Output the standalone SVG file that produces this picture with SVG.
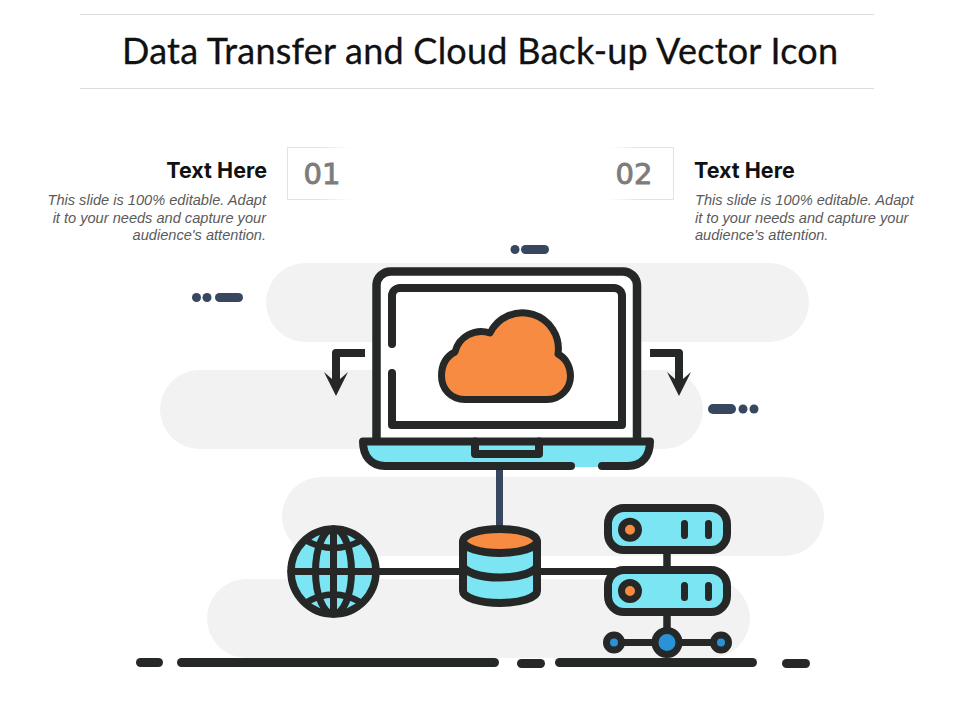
<svg xmlns="http://www.w3.org/2000/svg" width="960" height="720" viewBox="0 0 960 720">
<defs>
<linearGradient id="fadeR"><stop offset="0.5" stop-color="#e2e2e2"/><stop offset="1" stop-color="#fff"/></linearGradient>
<linearGradient id="fadeL"><stop offset="0" stop-color="#fff"/><stop offset="0.5" stop-color="#e2e2e2"/></linearGradient>
</defs>
<style>
.k{fill:none;stroke:#262828;stroke-width:8;stroke-linecap:round;stroke-linejoin:round}
.a{fill:none;stroke:#262828;stroke-width:8;stroke-linejoin:round}
.l{stroke:#262828;stroke-width:7.500}
.c{fill:#7be5f3}
.o{fill:#f68b41}
.b{fill:#2a92d6}
.band{fill:#f2f2f2}
.n{fill:#36475f}
.d{fill:#262828}
.h{font:bold 21.500px "Inter","Liberation Sans",sans-serif;fill:#111}
.p{font:italic 14.600px "Liberation Sans",Arial,sans-serif;fill:#5a5a5a}
.num{font:29px "DejaVu Sans","Liberation Sans",sans-serif;fill:#7c7c7c;stroke:#7c7c7c;stroke-width:.9}
</style>
<rect width="960" height="720" fill="#fff"/>
<g id="title">
<line x1="80" y1="14.500" x2="874" y2="14.500" stroke="#dcdcdc"/>
<line x1="80" y1="88.500" x2="874" y2="88.500" stroke="#dcdcdc"/>
<text x="480" y="64" text-anchor="middle" textLength="716" style="font:36px Lato,'Liberation Sans',sans-serif;fill:#111;stroke:#111;stroke-width:.3">Data Transfer and Cloud Back-up Vector Icon</text>
</g>
<g id="bands">
<rect class="band" x="266" y="263" width="543" height="79" rx="39.500"/>
<rect class="band" x="160" y="370" width="543" height="79" rx="39.500"/>
<rect class="band" x="282" y="477" width="542" height="79" rx="39.500"/>
<rect class="band" x="207" y="579" width="543" height="79" rx="39.500"/>
</g>
<g id="callout-1">
<path d="M352 147.500H287.500V199.500H352" fill="none" stroke="url(#fadeR)"/>
<text class="num" x="322" y="184" text-anchor="middle">01</text>
<text class="h" x="267" y="178" text-anchor="end">Text Here</text>
<text class="p" x="266" y="205" text-anchor="end">This slide is 100% editable. Adapt</text>
<text class="p" x="266" y="223" text-anchor="end">it to your needs and capture your</text>
<text class="p" x="266" y="240" text-anchor="end">audience's attention.</text>
</g>
<g id="callout-2">
<path d="M608 147.500H673.500V199.500H608" fill="none" stroke="url(#fadeL)"/>
<text class="num" x="634" y="184" text-anchor="middle">02</text>
<text class="h" x="694" y="178">Text Here</text>
<text class="p" x="695" y="205">This slide is 100% editable. Adapt</text>
<text class="p" x="695" y="223">it to your needs and capture your</text>
<text class="p" x="695" y="240">audience's attention.</text>
</g>
<g id="decor">
<circle class="n" cx="515" cy="249.500" r="4.500"/><rect class="n" x="521" y="245" width="28" height="9" rx="4.500"/>
<circle class="n" cx="196.500" cy="297.500" r="4.500"/><circle class="n" cx="207" cy="297.500" r="4.500"/><rect class="n" x="215" y="293" width="28" height="9" rx="4.500"/>
<rect class="n" x="708" y="404" width="28" height="10" rx="5"/><circle class="n" cx="743" cy="409" r="4.500"/><circle class="n" cx="754" cy="409" r="4.500"/>
<rect class="d" x="136" y="658" width="27" height="9" rx="4.500"/>
<rect class="d" x="177" y="658" width="322" height="9" rx="4.500"/>
<rect class="d" x="517" y="659" width="28" height="9" rx="4.500"/>
<rect class="d" x="555" y="658" width="202" height="9" rx="4.500"/>
<rect class="d" x="782" y="659" width="28" height="9" rx="4.500"/>
</g>
<g id="connectors">
<line x1="499.500" y1="468" x2="499.500" y2="530" stroke="#36475f" stroke-width="7"/>
<line class="l" x1="376" y1="571.500" x2="615" y2="571.500" style="stroke-width:7"/>
<line class="l" x1="667" y1="550" x2="667" y2="570"/>
<line class="l" x1="667" y1="612" x2="667" y2="632"/>
<line class="l" x1="615" y1="642.500" x2="721" y2="642.500" style="stroke-width:7"/>
<path class="a" d="M365 353H336V382"/>
<path class="d" d="M324 372L336 396L348 372L340 379H332Z"/>
<path class="a" d="M650 353H679V382"/>
<path class="d" d="M667 372L679 396L691 372L683 379H675Z"/>
</g>
<g id="laptop">
<path d="M376.500 441V285A14 14 0 0 1 390.500 271.500H623A14 14 0 0 1 637 285V441" fill="#fff" stroke="#262828" stroke-width="8.500"/>
<path class="k" d="M392 344V296A8 8 0 0 1 400 288H614A8 8 0 0 1 622 296V425H392V373"/>
<path d="M363 441.500H650C650 456 642 466 628 467H385C371 466 363 456 363 441.500Z" class="c"/>
<path class="k" d="M571 466H385C371 466 363 456 363 441.500H650C650 456 642 466 628 466H602"/>
<path d="M475 441.500V454H539V441.500" class="k"/>
</g>
<g id="cloud">
<path class="o" stroke="#262828" stroke-width="7" stroke-linejoin="round" d="M465 399.500C451 399.500 441.500 389 441.500 376C441.500 364 447 356 455 352A27 27 0 0 1 490 333A36 36 0 0 1 558 354C566 358 570.500 367 570.500 376C570.500 389 560 399.500 547 399.500Z"/>
</g>
<g id="globe">
<circle class="c" cx="333.500" cy="571.500" r="42.500"/>
<g class="k" style="stroke-width:7">
<ellipse cx="333.500" cy="571.500" rx="18" ry="42.500"/>
<path d="M333.500 529V614M291 571.500H376"/>
<path d="M305 540Q333.500 556 362 540M305 603Q333.500 586 362 603" style="stroke-width:6.500"/>
<circle cx="333.500" cy="571.500" r="42.500" style="stroke-width:7.500"/>
</g>
</g>
<g id="database">
<path class="c" d="M463 541V591A37 12 0 0 0 537 591V541Z"/>
<ellipse class="o" cx="500" cy="541" rx="37" ry="12"/>
<path class="k" d="M463 541V591A37 12 0 0 0 537 591V541A37 12 0 0 0 463 541A37 12 0 0 0 537 541M463 565A37 12.500 0 0 0 537 565"/>
</g>
<g id="server-1">
<rect class="c" x="608" y="508" width="119" height="42" rx="16" stroke="#262828" stroke-width="8"/>
<circle class="o" cx="630" cy="529.700" r="8.500" stroke="#262828" stroke-width="7"/>
<path class="k" style="stroke-width:7" d="M684.500 523.500V535.500M708.500 523.500V535.500"/>
</g>
<g id="server-2">
<rect class="c" x="608" y="570" width="119" height="42" rx="16" stroke="#262828" stroke-width="8"/>
<circle class="o" cx="630" cy="591" r="8.500" stroke="#262828" stroke-width="7"/>
<path class="k" style="stroke-width:7" d="M684.500 585.500V597.500M708.500 585.500V597.500"/>
</g>
<g id="network-nodes">
<circle class="b" cx="667" cy="642.500" r="12" stroke="#262828" stroke-width="7"/>
<circle class="b" cx="614" cy="642.500" r="7.500" stroke="#262828" stroke-width="7"/>
<circle class="b" cx="721" cy="642.500" r="7.500" stroke="#262828" stroke-width="7"/>
</g>
</svg>
